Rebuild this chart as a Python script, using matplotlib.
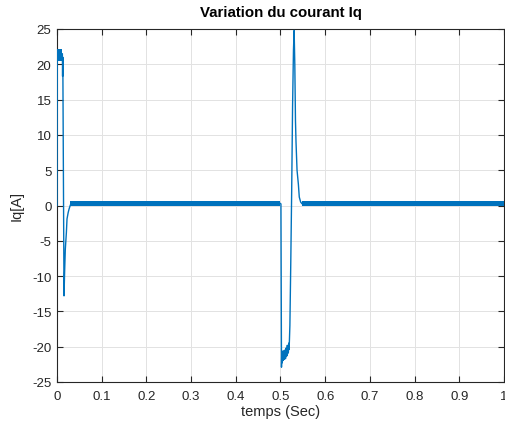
import matplotlib
matplotlib.use("Agg")
import matplotlib.pyplot as plt
import numpy as np

plt.rcParams['font.family'] = ['Liberation Sans', 'DejaVu Sans']
plt.rcParams['axes.unicode_minus'] = False

# main trace (time [s], Iq [A])
t_main = [0.0, 0.0006, 0.012, 0.0125, 0.013, 0.0157, 0.017, 0.0186, 0.021, 0.0224,
          0.025, 0.027, 0.030, 0.034, 0.04, 0.5, 0.5010, 0.5022, 0.5028, 0.5034,
          0.504, 0.5048, 0.5056, 0.5064, 0.5072, 0.508, 0.5088, 0.5096, 0.5104,
          0.5112, 0.512, 0.5128, 0.5136, 0.5144, 0.5152, 0.516, 0.5168, 0.5176,
          0.5184, 0.5192, 0.520, 0.521, 0.523, 0.525,
          0.527, 0.529, 0.5305, 0.532, 0.5335, 0.5347, 0.537, 0.540, 0.542,
          0.545, 0.548, 0.555, 1.0]
iq_main = [0.0, 21.5, 21.5, 18.3, 21.0, -12.8, -9.5, -6.2, -3.8, -1.9,
           -1.0, -0.5, 0.1, 0.25, 0.3, 0.3, 0.2, -22.9, -20.9, -22.3,
           -21.2, -22.0, -20.6, -21.9, -21.0, -21.8, -20.5, -21.6, -20.9,
           -21.7, -20.2, -21.4, -20.6, -21.3, -19.8, -21.0, -20.2, -20.8,
           -19.5, -20.4, -19.0, -17.0, -8.0, 2.0,
           14.0, 22.0, 24.8, 20.0, 12.0, 9.0, 5.0, 3.0, 1.2,
           0.5, 0.25, 0.2, 0.2]

# noise bands (segments where the trace is a dense noisy band)
band_t  = [[0.0008, 0.0122], [0.030, 0.5], [0.547, 1.0]]
band_lo = [20.4, 0.0, -0.05]
band_hi = [22.1, 0.7, 0.62]

xticks = [0, 0.1, 0.2, 0.3, 0.4, 0.5, 0.6, 0.7, 0.8, 0.9, 1]
xticklabels = ['0', '0.1', '0.2', '0.3', '0.4', '0.5', '0.6', '0.7', '0.8', '0.9', '1']
yticks = [-25, -20, -15, -10, -5, 0, 5, 10, 15, 20, 25]

blue = '#0072BD'
fig = plt.figure(figsize=(5.06, 4.27), dpi=100)
ax = fig.add_axes([57/506, 1-383/427, (504-57)/506, (383-30)/427])

for (ta, tb), lo, hi in zip(band_t, band_lo, band_hi):
    ax.fill_between([ta, tb], [lo, lo], [hi, hi], color=blue, lw=0, zorder=3)
ax.plot(t_main, iq_main, color=blue, lw=1.0, zorder=4)

ax.set_xlim(0, 1)
ax.set_ylim(-25, 25)
ax.set_xticks(xticks)
ax.set_xticklabels(xticklabels)
ax.set_yticks(yticks)
ax.grid(True, color='#e2e2e2', lw=0.7)
ax.set_axisbelow(True)
ax.tick_params(direction='in', top=True, right=True, length=4, width=0.8,
               colors='#262626', labelsize=9.5)
ax.tick_params(axis='x', pad=6)
ax.tick_params(axis='y', pad=4)
for s in ax.spines.values():
    s.set_color('#262626')
    s.set_linewidth(0.8)
ax.set_title('Variation du courant Iq', fontsize=10.8, fontweight='bold', color='#000000', pad=9)
ax.set_xlabel('temps (Sec)', fontsize=10.5, color='#262626', labelpad=1)
ax.set_ylabel('Iq[A]', fontsize=10.5, color='#262626', labelpad=6)

fig.savefig('out.png', dpi=100)
